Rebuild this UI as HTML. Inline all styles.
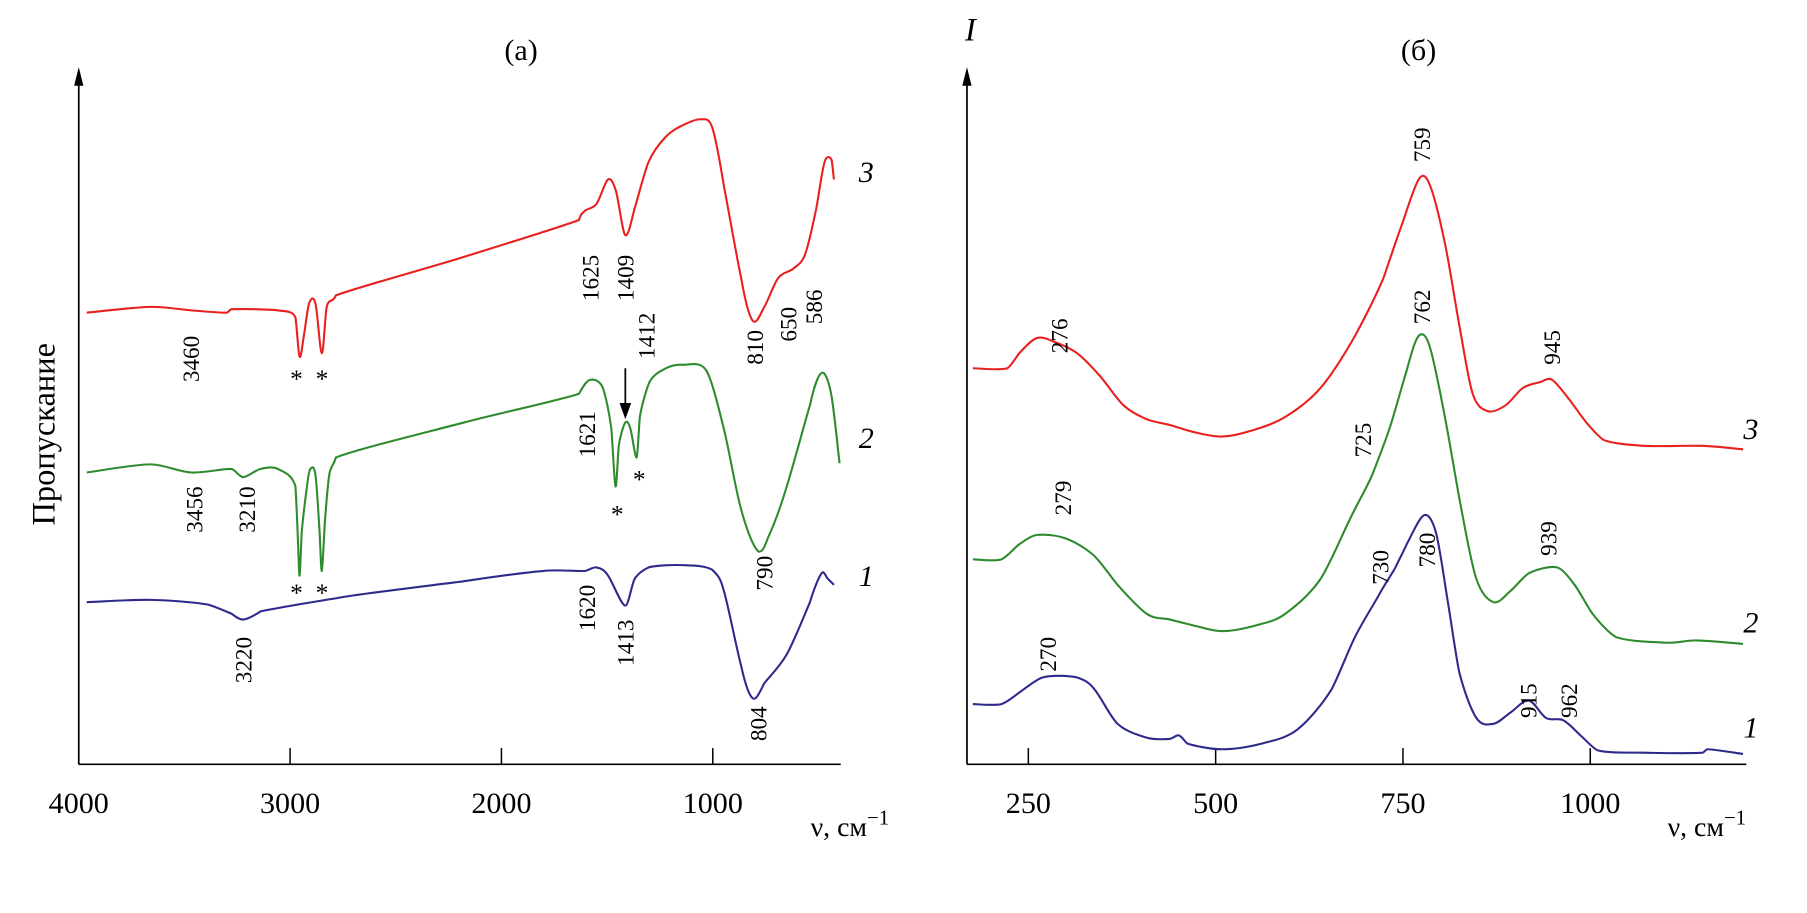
<!DOCTYPE html>
<html><head><meta charset="utf-8"><style>
html,body{margin:0;padding:0;background:#fff}
svg{display:block}
text{font-family:"Liberation Serif",serif;fill:#000}
</style></head><body>
<svg id="chart" width="1807" height="913" viewBox="0 0 1560.4 788.4" xmlns="http://www.w3.org/2000/svg">
<g id="axes" stroke="#000" stroke-width="1.5" fill="none">
<line x1="68" y1="660" x2="726" y2="660"/><line x1="68" y1="660" x2="68" y2="66"/>
<line x1="835" y1="660" x2="1508" y2="660"/><line x1="835" y1="660" x2="835" y2="66"/>
</g>
<polygon points="68,58 64,74 72,74" fill="#000"/>
<polygon points="835,58 831,74 839,74" fill="#000"/>
<text x="450" y="52" font-size="26" text-anchor="middle">(а)</text>
<text x="1225" y="52" font-size="26" text-anchor="middle">(б)</text>
<text x="838" y="35" font-size="28" font-style="italic" text-anchor="middle">I</text>
<text transform="translate(47,375) rotate(-90)" font-size="28" text-anchor="middle">Пропускание</text>
<text x="700" y="722" font-size="24">ν, см<tspan dy="-10" font-size="18">−1</tspan></text>
<text x="1440" y="722" font-size="24">ν, см<tspan dy="-10" font-size="18">−1</tspan></text>
<g id="ticks"></g>
<g id="series"></g>
<g id="notes"></g>
</svg>
<script>
const leftTicks=[4000,3000,2000,1000];
const rightTicks=[250,500,750,1000];
const irWn3=[3962,3660,3468,3300,3277,3057,2975,2955,2935,2910,2880,2850,2827,2783,2181,1633,1605,1550,1496,1458,1414,1370,1304,1222,1140,1057,1003,948,866,811,756,690,619,564,510,471,438,427];
const irV3=[390,395,392,390,393,392,386,352,370,398,398,355,395,405,438,470,478,484,505,495,457,480,520,542,552,557,550,500,420,383,395,420,428,440,480,520,522,505];
const irWn2=[3962,3660,3468,3277,3222,3140,3057,2975,2962,2955,2945,2920,2904,2880,2860,2850,2835,2815,2783,2181,1633,1580,1520,1480,1460,1445,1414,1390,1360,1345,1300,1222,1140,1030,948,866,790,740,650,540,485,440,400];
const irV2=[252,259,252,255,248,255,255,240,190,163,200,240,255,250,200,167,210,250,265,295,320,332,325,290,240,275,295,290,265,300,330,342,345,340,290,220,185,195,240,310,338,320,260];
const irWn1=[3962,3660,3390,3277,3222,3140,2730,2181,1800,1605,1550,1496,1414,1370,1304,1140,1003,948,866,811,756,650,540,485,455,427];
const irV1=[140,142,138,130,125,132,145,158,167,167,170,163,137,160,170,172,168,150,85,57,70,95,140,165,160,155];
const rWn3=[176,222,238,261,284,315,346,377,408,439,470,508,547,593,640,686,724,748,771,786,806,825,843,863,887,910,933,949,972,995,1018,1072,1150,1204];
const rV3=[342,342,355,368,365,355,335,310,298,293,287,283,288,300,325,370,420,465,505,500,450,380,320,305,310,325,330,332,315,295,280,275,275,272];
const rWn2=[176,214,238,261,300,338,369,408,439,470,508,554,593,640,678,709,732,755,771,786,806,828,848,871,894,918,956,979,1003,1034,1103,1142,1204];
const rV2=[177,177,190,198,195,180,155,130,125,120,115,120,130,160,210,250,290,340,370,360,300,220,160,140,150,165,170,155,130,110,105,107,104];
const rWn1=[176,214,238,269,315,338,369,408,439,451,462,508,562,609,655,686,717,740,755,778,794,810,825,848,871,894,918,941,964,987,1010,1072,1150,1157,1204];
const rV1=[52,52,62,75,75,65,35,23,22,25,18,13,18,30,65,110,145,170,190,215,200,140,80,40,35,45,55,40,38,25,12,10,10,13,9];
const NS='http://www.w3.org/2000/svg';
function xL(w){return 68+(4000-w)*0.1825;}
function xR(w){return 888+(w-250)*0.647;}
function yV(v){return 660-v;}
function mk(tag,parent){const e=document.createElementNS(NS,tag);parent.appendChild(e);return e;}
const tg=document.getElementById('ticks');
leftTicks.forEach(t=>{
 const l=mk('line',tg);
 
 
 l.setAttribute('x1',xL(t));l.setAttribute('x2',xL(t));l.setAttribute('y1',646);l.setAttribute('y2',660);l.setAttribute('stroke','#000');l.setAttribute('stroke-width','1.3');
 const s=mk('text',tg);
 
 
 s.setAttribute('x',xL(t));s.setAttribute('y',702);s.setAttribute('font-size','26');s.setAttribute('text-anchor','middle');s.textContent=t;
});
rightTicks.forEach(t=>{
 const l=mk('line',tg);
 
 
 l.setAttribute('x1',xR(t));l.setAttribute('x2',xR(t));l.setAttribute('y1',646);l.setAttribute('y2',660);l.setAttribute('stroke','#000');l.setAttribute('stroke-width','1.3');
 const s=mk('text',tg);
 
 
 s.setAttribute('x',xR(t));s.setAttribute('y',702);s.setAttribute('font-size','26');s.setAttribute('text-anchor','middle');s.textContent=t;
});
const sg=document.getElementById('series');
function clampX(x,a,b){const lo=Math.min(a,b),hi=Math.max(a,b);return Math.max(lo,Math.min(hi,x));}
function line(ws,vs,fx,color,name){
 const pts=ws.map((w,i)=>[fx(w),yV(vs[i])]);
 let d='M'+pts[0][0].toFixed(1)+','+pts[0][1].toFixed(1);
 const k=0.16;
 for(let i=0;i<pts.length-1;i++){
  const p0=pts[Math.max(0,i-1)],p1=pts[i],p2=pts[i+1],p3=pts[Math.min(pts.length-1,i+2)];
  const dx=p2[0]-p1[0];
  let c1x=p1[0]+(p2[0]-p0[0])*k, c1y=p1[1]+(p2[1]-p0[1])*k;
  let c2x=p2[0]-(p3[0]-p1[0])*k, c2y=p2[1]-(p3[1]-p1[1])*k;
  c1x=clampX(c1x,p1[0],p1[0]+dx/3);c2x=clampX(c2x,p2[0]-dx/3,p2[0]);
  d+=' C'+c1x.toFixed(1)+','+c1y.toFixed(1)+' '+c2x.toFixed(1)+','+c2y.toFixed(1)+' '+p2[0].toFixed(1)+','+p2[1].toFixed(1);
 }
 const p=mk('path',sg);
 
 
 p.setAttribute('d',d);
 p.setAttribute('fill','none');p.setAttribute('stroke',color);p.setAttribute('stroke-width','1.8');p.setAttribute('stroke-linejoin','round');
}
const RED='#e8201e',GRN='#2e8b2e',BLU='#2e2a8c';
line(irWn3,irV3,xL,RED,'ir-curve-3');
line(irWn2,irV2,xL,GRN,'ir-curve-2');
line(irWn1,irV1,xL,BLU,'ir-curve-1');
line(rWn3,rV3,xR,RED,'raman-curve-3');
line(rWn2,rV2,xR,GRN,'raman-curve-2');
line(rWn1,rV1,xR,BLU,'raman-curve-1');
const ng=document.getElementById('notes');
const peakLabels=[['3460',165,310],['3456',168,440],['3210',213,440],['3220',210,570],['1625',510,240],['1409',540,240],['1412',558,290],['1621',507,375],['1620',507,525],['1413',540,555],['810',652,300],['650',681,280],['586',703,265],['790',660,495],['804',655,625],
['276',915,290],['759',1228,125],['762',1228,265],['945',1340,300],['725',1177,380],['279',918,430],['780',1232,475],['730',1192,490],['939',1337,465],['270',905,565],['915',1320,605],['962',1355,605]];
peakLabels.forEach(a=>{
 const t=mk('text',ng);
 
 
 t.setAttribute('transform','translate('+a[1]+','+a[2]+') rotate(-90)');t.setAttribute('font-size','20');t.setAttribute('text-anchor','middle');t.setAttribute('dy','7');t.textContent=a[0];
});
const stars=[[256,334],[278,334],[256,519],[278,519],[533,451],[552,421]];
stars.forEach(s=>{
 const t=mk('text',ng);
 
 
 t.setAttribute('x',s[0]);t.setAttribute('y',s[1]);t.setAttribute('font-size','22');t.setAttribute('text-anchor','middle');t.textContent='*';
});
const curveLabels=[['3',748,157],['2',748,387],['1',748,506],['3',1512,379],['2',1512,546],['1',1512,637]];
curveLabels.forEach(c=>{
 const t=mk('text',ng);
 
 
 t.setAttribute('x',c[1]);t.setAttribute('y',c[2]);t.setAttribute('font-size','26');t.setAttribute('font-style','italic');t.setAttribute('text-anchor','middle');t.textContent=c[0];
});
const ar=mk('line',ng);


ar.setAttribute('x1',540);ar.setAttribute('x2',540);ar.setAttribute('y1',318);ar.setAttribute('y2',352);ar.setAttribute('stroke','#000');ar.setAttribute('stroke-width','1.5');
const ah=mk('polygon',ng);


ah.setAttribute('points','540,362 535,348 545,348');ah.setAttribute('fill','#000');
</script>
</body></html>
